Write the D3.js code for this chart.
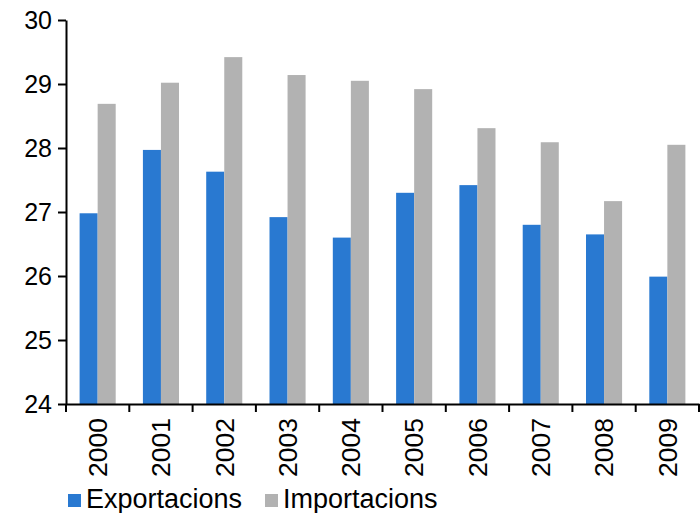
<!DOCTYPE html>
<html>
<head>
<meta charset="utf-8">
<script src="https://cdn.jsdelivr.net/npm/d3@7"></script>
<style>
  html, body { margin: 0; padding: 0; background: #fff; }
  svg { display: block; font-family: "Liberation Sans", Arial, sans-serif; }
</style>
</head>
<body>
<svg id="chart" width="700" height="513"></svg>
<script>
const years = ["2000","2001","2002","2003","2004","2005","2006","2007","2008","2009"];
const seriesNames = ["Exportacions", "Importacions"];
const exportacions = [26.98, 27.97, 27.63, 26.92, 26.60, 27.30, 27.42, 26.80, 26.65, 25.99];
const importacions = [28.69, 29.02, 29.42, 29.14, 29.05, 28.92, 28.31, 28.09, 27.17, 28.05];
const yTicks = [24, 25, 26, 27, 28, 29, 30];
const colors = ["#2979d1", "#b2b2b2"];

const svg = d3.select("#chart");
const mLeft = 66, mRight = 699, mTop = 20, mBottom = 404;

const x0 = d3.scaleBand().domain(years).range([mLeft, mRight]).padding(0);
const step = x0.step();
const groupW = step * 0.57;
const x1 = d3.scaleBand().domain(seriesNames)
  .range([(step - groupW) / 2, (step + groupW) / 2]).padding(0);
const y = d3.scaleLinear().domain([24, 30]).range([mBottom, mTop]);

const data = years.map((yr, i) => ({ year: yr, values: [exportacions[i], importacions[i]] }));

// bars
const groups = svg.append("g").selectAll("g").data(data).join("g")
  .attr("transform", d => `translate(${x0(d.year)},0)`);
groups.selectAll("rect")
  .data(d => d.values.map((v, j) => ({ name: seriesNames[j], v, j })))
  .join("rect")
  .attr("x", d => x1(d.name))
  .attr("width", x1.bandwidth())
  .attr("y", d => y(d.v))
  .attr("height", d => y(24) - y(d.v))
  .attr("fill", d => colors[d.j]);

// y axis
const yAxis = svg.append("g").attr("transform", `translate(${mLeft},0)`)
  .call(d3.axisLeft(y).tickValues(yTicks).tickFormat(d3.format("d")).tickSize(8).tickSizeOuter(0).tickPadding(6));
yAxis.select(".domain").attr("stroke", "#000").attr("stroke-width", 2);
yAxis.selectAll(".tick line").attr("stroke", "#000").attr("stroke-width", 2);
yAxis.selectAll(".tick text").attr("font-size", 25).attr("fill", "#000")
  .attr("font-family", "Liberation Sans, Arial, sans-serif");

// x axis
const xAxis = svg.append("g").attr("transform", `translate(0,${mBottom})`)
  .call(d3.axisBottom(x0).tickSize(0).tickSizeOuter(0).tickPadding(0));
xAxis.select(".domain").attr("stroke", "#000").attr("stroke-width", 2);
xAxis.selectAll(".tick text")
  .attr("font-size", 26.5).attr("fill", "#000")
  .attr("font-family", "Liberation Sans, Arial, sans-serif")
  .attr("text-anchor", "end")
  .attr("transform", "translate(0,14) rotate(-90)")
  .attr("x", 0).attr("y", 0).attr("dy", "0.35em");
// category boundary ticks
const bounds = years.map(d => x0(d)).concat([x0.range()[1]]);
xAxis.selectAll("line.bound").data(bounds).join("line")
  .attr("class", "bound")
  .attr("x1", d => d).attr("x2", d => d)
  .attr("y1", 0).attr("y2", 8)
  .attr("stroke", "#000").attr("stroke-width", 2);

// legend
const legendPos = [{ sx: 68, tx: 86 }, { sx: 265, tx: 283 }];
const legend = svg.append("g");
seriesNames.forEach((name, i) => {
  legend.append("rect").attr("x", legendPos[i].sx).attr("y", 494)
    .attr("width", 13).attr("height", 13).attr("fill", colors[i]);
  legend.append("text").attr("x", legendPos[i].tx).attr("y", 508)
    .attr("font-size", 27).attr("fill", "#000").text(name);
});
</script>
</body>
</html>
